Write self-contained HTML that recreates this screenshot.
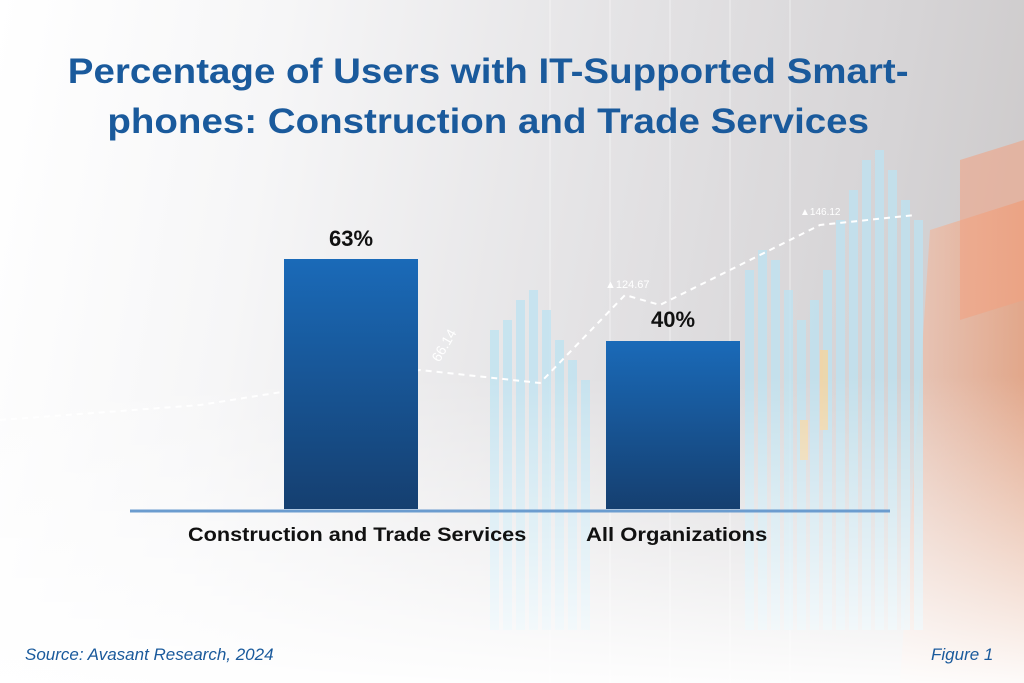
<!DOCTYPE html>
<html><head><meta charset="utf-8"><style>
body{margin:0}
#c{position:relative;width:1024px;height:683px;overflow:hidden;font-family:"Liberation Sans",sans-serif;
background:linear-gradient(100deg,#ffffff 0%,#f6f6f7 25%,#e4e3e5 55%,#d6d4d6 80%,#c9c6c6 100%);}
.t{position:absolute;left:0;width:976px;text-align:center;color:#1a5a9c;font-weight:bold;font-size:35px;line-height:44px;}
.t span{display:inline-block;transform:scaleX(1.1)}
.bar{position:absolute;width:134px;background:linear-gradient(#1a6ab8,#153f70);}
.v{position:absolute;font-weight:bold;font-size:22px;color:#111;width:134px;text-align:center}
.l{position:absolute;font-weight:bold;font-size:19px;color:#111;transform-origin:0 0}
</style></head><body><div id="c">
<svg width="1024" height="683" style="position:absolute;left:0;top:0">
<defs>
<linearGradient id="fade" x1="0" y1="0" x2="0" y2="1"><stop offset="0.55" stop-color="#fff" stop-opacity="0"/><stop offset="1" stop-color="#fff" stop-opacity="0.95"/></linearGradient>
<linearGradient id="or" x1="0" y1="0" x2="1" y2="0"><stop offset="0" stop-color="#f4c3ae"/><stop offset="1" stop-color="#f09060"/></linearGradient>
</defs>
<g stroke="#ffffff" stroke-width="1" opacity="0.5">
<line x1="550" y1="0" x2="550" y2="683"/><line x1="610" y1="0" x2="610" y2="683"/><line x1="670" y1="0" x2="670" y2="683"/><line x1="730" y1="0" x2="730" y2="683"/><line x1="790" y1="0" x2="790" y2="683"/>
</g>
<polygon points="930,230 1024,200 1024,683 900,683" fill="url(#or)" opacity="0.6"/>
<polygon points="960,160 1024,140 1024,300 960,320" fill="#f2a080" opacity="0.55"/>
<g fill="#bde3f2" opacity="0.75">
<rect x="490" y="330" width="9" height="300"/><rect x="503" y="320" width="9" height="310"/><rect x="516" y="300" width="9" height="330"/><rect x="529" y="290" width="9" height="340"/><rect x="542" y="310" width="9" height="320"/><rect x="555" y="340" width="9" height="290"/><rect x="568" y="360" width="9" height="270"/><rect x="581" y="380" width="9" height="250"/>
<rect x="745" y="270" width="9" height="360"/><rect x="758" y="250" width="9" height="380"/><rect x="771" y="260" width="9" height="370"/><rect x="784" y="290" width="9" height="340"/><rect x="797" y="320" width="9" height="310"/><rect x="810" y="300" width="9" height="330"/><rect x="823" y="270" width="9" height="360"/><rect x="836" y="220" width="9" height="410"/><rect x="849" y="190" width="9" height="440"/><rect x="862" y="160" width="9" height="470"/><rect x="875" y="150" width="9" height="480"/><rect x="888" y="170" width="9" height="460"/><rect x="901" y="200" width="9" height="430"/><rect x="914" y="220" width="9" height="410"/>
</g>
<g fill="#f5d59e" opacity="0.8"><rect x="820" y="350" width="8" height="80"/><rect x="800" y="420" width="8" height="40"/></g>
<polyline points="0,420 200,405 420,370 540,383 625,295 660,305 820,225 915,215" fill="none" stroke="#fff" stroke-width="2" stroke-dasharray="6,5"/>
<text x="425" y="362" fill="#fff" font-size="14" font-family="Liberation Sans" transform="rotate(-60 433 350)">66.14</text>
<text x="605" y="288" fill="#fff" font-size="11" font-family="Liberation Sans">▲124.67</text>
<text x="800" y="215" fill="#fff" font-size="10" font-family="Liberation Sans">▲146.12</text>
<rect x="0" y="0" width="1024" height="683" fill="url(#fade)"/>
<line x1="130" y1="511" x2="890" y2="511" stroke="#6b9ccf" stroke-width="3"/>
</svg>
<div class="t" style="top:50px"><span>Percentage of Users with IT-Supported Smart-</span></div>
<div class="t" style="top:100px"><span>phones: Construction and Trade Services</span></div>
<div class="bar" style="left:284px;top:259px;height:250px"></div>
<div class="bar" style="left:606px;top:341px;height:168px"></div>
<div class="v" style="left:284px;top:226px">63%</div>
<div class="v" style="left:606px;top:307px">40%</div>
<div class="l" style="left:188px;top:525px;transform:scaleX(1.14)">Construction and Trade Services</div>
<div class="l" style="left:586px;top:525px;transform:scaleX(1.16)">All Organizations</div>
<div style="position:absolute;left:25px;top:645px;color:#1a5a9c;font-style:italic;font-size:17px">Source: Avasant Research, 2024</div>
<div style="position:absolute;left:931px;top:645px;color:#1a5a9c;font-style:italic;font-size:17px">Figure 1</div>
</div></body></html>
